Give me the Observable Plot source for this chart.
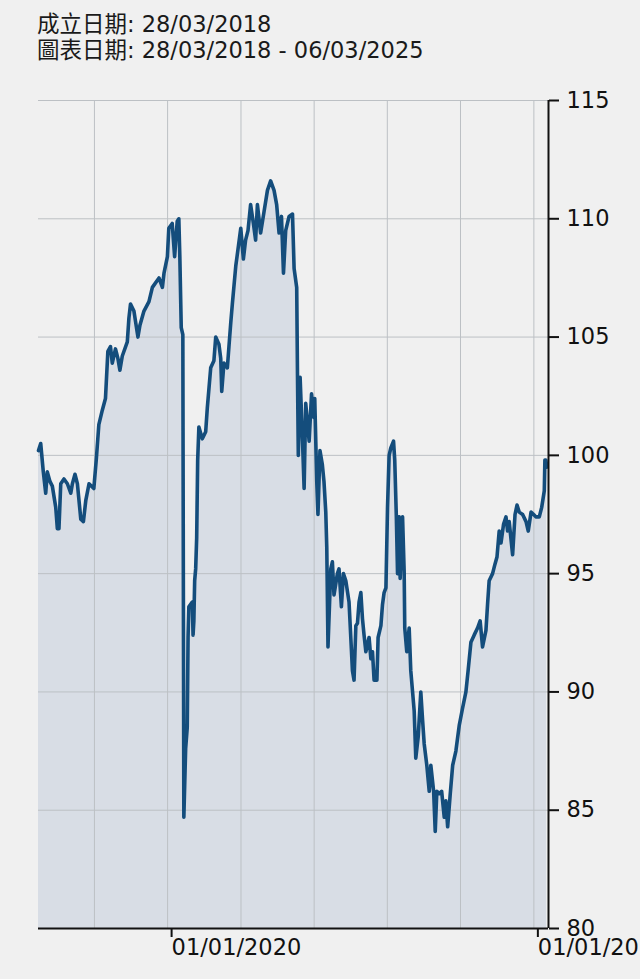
<!DOCTYPE html>
<html><head><meta charset="utf-8">
<script src="https://cdn.jsdelivr.net/npm/d3@7"></script>
<script src="https://cdn.jsdelivr.net/npm/@observablehq/plot@0.6"></script>
<style>
html,body{margin:0;padding:0;background:#f0f0f0;overflow:hidden;width:640px;height:979px}
#head{height:70px;box-sizing:border-box;padding:11px 0 0 37px;font-family:"DejaVu Sans","Noto Sans CJK TC",sans-serif;font-size:22.5px;line-height:26px;color:#1a1a1a;white-space:nowrap}
#chart svg{display:block}
</style></head><body>
<div id="head"><div>成立日期: 28/03/2018</div><div>圖表日期: 28/03/2018 - 06/03/2025</div></div>
<div id="chart"></div>
<script>
const dates = [
"2018-03-28","2018-04-08","2018-04-21","2018-05-03","2018-05-11","2018-05-24","2018-06-05","2018-06-22","2018-06-30","2018-07-08",
"2018-07-17","2018-08-02","2018-08-19","2018-09-05","2018-09-13","2018-09-26","2018-10-08","2018-10-25","2018-11-07","2018-11-19",
"2018-12-05","2018-12-29","2019-01-11","2019-01-23","2019-02-09","2019-02-25","2019-03-09","2019-03-22","2019-03-31","2019-04-16",
"2019-04-28","2019-05-08","2019-05-20","2019-06-14","2019-06-22","2019-06-30","2019-07-17","2019-08-06","2019-08-16","2019-09-05",
"2019-09-30","2019-10-17","2019-11-19","2019-12-06","2019-12-14","2019-12-31","2020-01-07","2020-01-24","2020-02-05","2020-02-18",
"2020-02-26","2020-03-02","2020-03-09","2020-03-17","2020-03-22","2020-03-31","2020-04-08","2020-04-12","2020-04-16","2020-05-03",
"2020-05-07","2020-05-11","2020-05-15","2020-05-20","2020-05-25","2020-05-30","2020-06-05","2020-06-22","2020-07-09","2020-07-17",
"2020-08-03","2020-08-19","2020-08-28","2020-09-13","2020-09-22","2020-09-27","2020-10-08","2020-10-25","2020-11-02","2020-11-11",
"2020-11-19","2020-12-06","2020-12-17","2020-12-31","2021-01-13","2021-01-24","2021-02-05","2021-02-18","2021-03-04","2021-03-15",
"2021-03-24","2021-04-09","2021-04-26","2021-05-13","2021-05-29","2021-06-15","2021-06-28","2021-07-10","2021-07-22","2021-08-01",
"2021-08-12","2021-08-29","2021-09-15","2021-09-23","2021-10-06","2021-10-10","2021-10-14","2021-10-23","2021-11-04","2021-11-12",
"2021-11-20","2021-12-07","2021-12-19","2021-12-31","2022-01-04","2022-01-14","2022-01-20","2022-01-30","2022-02-11","2022-02-19",
"2022-02-28","2022-03-05","2022-03-11","2022-03-25","2022-04-02","2022-04-10","2022-04-27","2022-05-05","2022-05-17","2022-05-27",
"2022-06-08","2022-06-24","2022-07-11","2022-07-19","2022-07-28","2022-08-05","2022-08-13","2022-08-22","2022-08-30","2022-09-07",
"2022-09-16","2022-10-02","2022-10-11","2022-10-19","2022-10-27","2022-11-10","2022-11-16","2022-11-30","2022-12-08","2022-12-16",
"2022-12-25","2023-01-02","2023-01-10","2023-01-18","2023-02-01","2023-02-07","2023-02-15","2023-02-21","2023-02-24","2023-03-01",
"2023-03-06","2023-03-18","2023-03-26","2023-03-29","2023-04-08","2023-04-20","2023-04-28","2023-05-07","2023-05-15","2023-05-23",
"2023-06-04","2023-06-17","2023-06-26","2023-07-04","2023-07-17","2023-07-29","2023-08-06","2023-08-20","2023-08-28","2023-09-05",
"2023-09-17","2023-09-29","2023-10-12","2023-10-20","2023-10-29","2023-11-11","2023-11-23","2023-12-09","2023-12-26","2024-01-11",
"2024-01-28","2024-02-08","2024-02-22","2024-03-09","2024-03-26","2024-04-08","2024-04-20","2024-05-07","2024-05-15","2024-05-23",
"2024-06-09","2024-06-21","2024-07-01","2024-07-12","2024-07-21","2024-08-03","2024-08-15","2024-08-23","2024-08-31","2024-09-17",
"2024-09-29","2024-10-09","2024-10-20","2024-11-06","2024-11-23","2024-12-04","2024-12-18","2024-12-31","2025-01-11","2025-01-28",
"2025-02-09","2025-02-22","2025-02-25","2025-03-02","2025-03-06"
];
const values = [
100.2,100.5,99.3,98.4,99.3,98.9,98.7,97.8,96.9,96.9,
98.8,99.0,98.8,98.4,98.8,99.2,98.8,97.3,97.2,98.1,
98.8,98.6,99.9,101.3,101.9,102.4,104.4,104.6,103.9,104.5,
104.1,103.6,104.2,104.8,105.8,106.4,106.1,105.0,105.5,106.1,
106.5,107.1,107.5,107.1,107.7,108.4,109.6,109.8,108.4,109.9,
110.0,108.4,105.4,105.1,84.7,87.6,88.5,92.3,93.6,93.8,
92.4,93.0,94.7,95.2,96.5,99.8,101.2,100.7,101.0,102.0,
103.7,104.0,105.0,104.7,104.1,102.7,103.9,103.7,104.6,105.6,
106.4,108.0,108.7,109.6,108.3,109.1,109.5,110.6,109.8,109.1,
110.6,109.4,110.3,111.2,111.6,111.2,110.6,109.4,110.1,107.7,
109.5,110.1,110.2,107.9,107.1,103.3,100.0,103.3,100.6,98.6,
102.2,100.6,102.6,101.6,102.4,98.9,97.5,100.2,99.6,98.9,
97.6,96.1,91.9,95.2,95.5,94.1,95.0,95.2,93.6,95.0,
94.7,93.8,90.9,90.5,92.8,92.9,93.8,94.2,93.1,92.4,
91.7,92.3,91.4,91.7,90.5,90.5,92.3,92.8,93.7,94.2,
94.4,97.8,100.0,100.3,100.6,99.8,97.4,95.0,97.2,97.4,
94.8,97.4,95.1,92.7,91.7,92.7,90.9,90.0,89.2,87.2,
88.1,90.0,88.8,87.8,86.9,85.8,86.9,85.8,84.1,85.8,
85.7,85.8,84.7,85.4,84.3,85.7,86.9,87.5,88.6,89.3,
90.0,90.9,92.1,92.4,92.7,93.0,91.9,92.6,93.7,94.7,
95.0,95.4,95.7,96.8,96.3,97.1,97.4,96.8,97.2,95.8,
97.5,97.9,97.6,97.5,97.2,96.8,97.6,97.5,97.4,97.4,
97.8,98.5,99.8,99.8,99.5
];
const yTicks = [80, 85, 90, 95, 100, 105, 110, 115];
const gridYears = ["2019-01-01","2020-01-01","2021-01-01","2022-01-01","2023-01-01","2024-01-01","2025-01-01"];
const labelDates = ["2020-01-01","2025-01-01"];
const xDomain = ["2018-03-28","2025-03-15"];

const data = dates.map((d, i) => ({date: new Date(d), value: values[i]}));

const chart = Plot.plot({
  width: 640,
  height: 909,
  marginTop: 30,
  marginBottom: 51,
  marginLeft: 38,
  marginRight: 92,
  style: {background: "#f0f0f0", fontFamily: "DejaVu Sans, sans-serif", fontSize: "22.5px", color: "#111", overflow: "visible"},
  x: {type: "utc", domain: xDomain.map(d => new Date(d))},
  y: {domain: [yTicks[0], yTicks[yTicks.length - 1]]},
  marks: [
    Plot.areaY(data, {x: "date", y1: yTicks[0], y2: "value", fill: "#d8dde5"}),
    Plot.gridX(gridYears.map(d => new Date(d)), {stroke: "#bcc0c4", strokeOpacity: 1, strokeWidth: 1}),
    Plot.gridY(yTicks.slice(1), {stroke: "#bcc0c4", strokeOpacity: 1, strokeWidth: 1}),
    Plot.line(data, {x: "date", y: "value", stroke: "#144d7c", strokeWidth: 3.6, strokeLinejoin: "round"}),
    Plot.ruleY([yTicks[0]], {stroke: "#111", strokeWidth: 2}),
    Plot.ruleX([new Date(xDomain[1])], {stroke: "#111", strokeWidth: 2}),
    Plot.axisY({anchor: "right", ticks: yTicks, tickSize: 10, tickPadding: 8, strokeWidth: 2, stroke: "#111", fontSize: 22.5, label: null}),
    Plot.axisX({anchor: "bottom", ticks: labelDates.map(d => new Date(d)), tickFormat: d3.utcFormat("%d/%m/%Y"), tickSize: 9, tickPadding: 2, textAnchor: "start", dx: 4, strokeWidth: 2, stroke: "#111", fontSize: 22.5, label: null})
  ]
});
document.getElementById("chart").appendChild(chart);
</script>
</body></html>
